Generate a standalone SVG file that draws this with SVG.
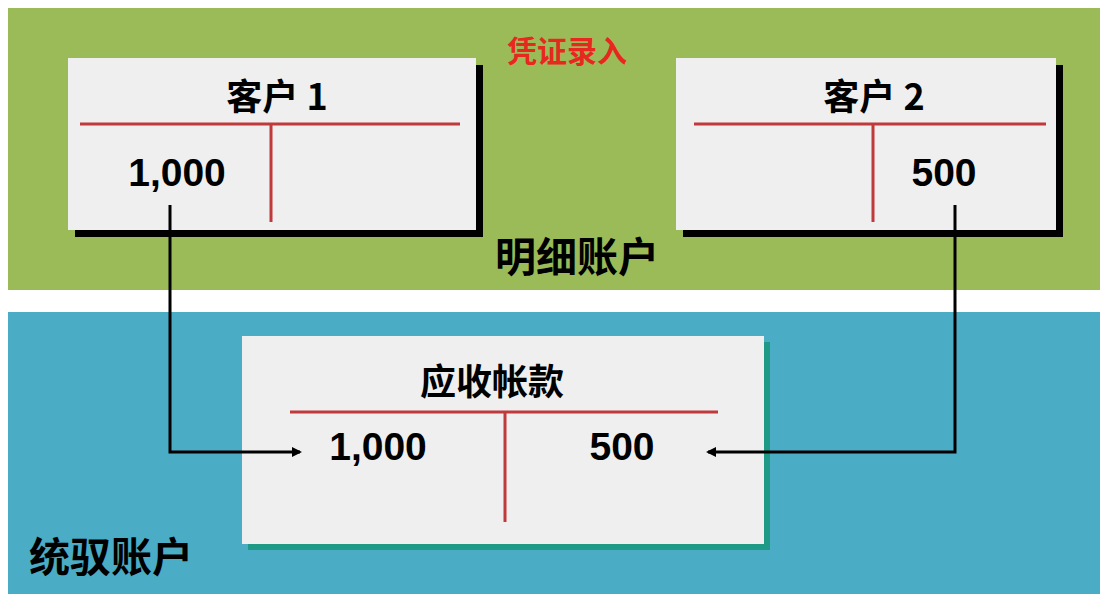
<svg xmlns="http://www.w3.org/2000/svg" width="1108" height="602" viewBox="0 0 1108 602">
<style>
.t{font-family:"Noto Sans CJK SC","Liberation Sans",sans-serif;font-weight:bold;fill:#000}
.n{font-family:"Liberation Sans","Noto Sans CJK SC",sans-serif;font-weight:bold;font-size:39px;fill:#000}
.r{stroke:#C0393B;stroke-width:3}
.box{fill:#EFEFEF}
.c{fill:none;stroke:#000;stroke-width:3}
</style>
<defs><marker id="a" markerWidth="10" markerHeight="10" refX="8" refY="5" orient="auto" markerUnits="userSpaceOnUse"><path d="M0,0 L10,5 L0,10 z" fill="#000"/></marker></defs>
<rect width="1108" height="602" fill="#fff"/>
<rect x="8" y="8" width="1092" height="282" fill="#9BBB59"/>
<rect x="8" y="312" width="1092" height="282" fill="#4BACC6"/>
<text x="567" y="62" text-anchor="middle" class="t" style="fill:#E8281E;font-size:30px">凭证录入</text>
<g id="c1">
<rect x="75" y="65" width="408" height="172" fill="#000"/>
<rect x="68" y="58" width="408" height="172" class="box"/>
<text x="277" y="110" text-anchor="middle" class="t" style="font-size:36px">客户 1</text>
<line x1="80" y1="124" x2="460" y2="124" class="r"/>
<line x1="271" y1="124" x2="271" y2="222" class="r"/>
<text x="177" y="186" text-anchor="middle" class="n">1,000</text>
</g>
<g id="c2">
<rect x="683" y="65" width="380" height="172" fill="#000"/>
<rect x="676" y="58" width="380" height="172" class="box"/>
<text x="874" y="110" text-anchor="middle" class="t" style="font-size:36px">客户 2</text>
<line x1="694" y1="124" x2="1046" y2="124" class="r"/>
<line x1="873" y1="124" x2="873" y2="222" class="r"/>
<text x="944" y="186" text-anchor="middle" class="n">500</text>
</g>
<text x="577" y="272" text-anchor="middle" class="t" style="font-size:41px">明细账户</text>
<g id="ar">
<rect x="248" y="342" width="522" height="208" fill="#1F9A86"/>
<rect x="242" y="336" width="522" height="208" class="box"/>
<text x="492" y="395" text-anchor="middle" class="t" style="font-size:36px">应收帐款</text>
<line x1="290" y1="412" x2="718" y2="412" class="r"/>
<line x1="505" y1="412" x2="505" y2="522" class="r"/>
<text x="378" y="460" text-anchor="middle" class="n">1,000</text>
<text x="622" y="460" text-anchor="middle" class="n">500</text>
</g>
<text x="111" y="572" text-anchor="middle" class="t" style="font-size:41px">统驭账户</text>
<g id="connectors">
<path d="M170,205 V452 H300" class="c" marker-end="url(#a)"/>
<path d="M955,205 V452 H708" class="c" marker-end="url(#a)"/>
</g>
</svg>
